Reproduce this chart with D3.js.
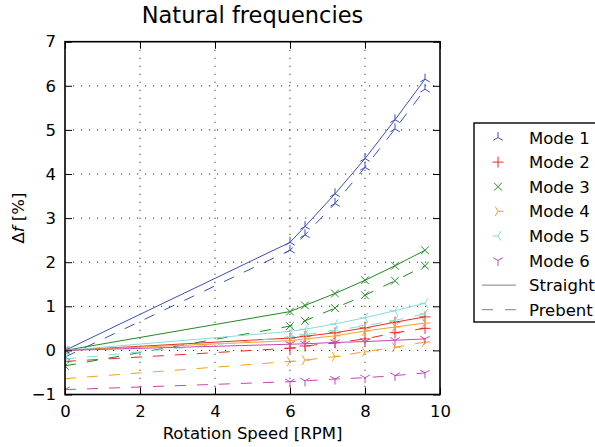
<!DOCTYPE html>
<html>
<head>
<meta charset="utf-8">
<script src="https://cdn.jsdelivr.net/npm/d3@7"></script>
<style>
  body { margin: 0; background: #fff; }
  svg { font-family: "DejaVu Sans", sans-serif; }
</style>
</head>
<body>
<div id="chart"></div>
<script>
'use strict';

// rotation speeds of the measurements
const speeds = [0, 6, 6.4, 7.2, 8, 8.8, 9.6];

const modeNames = ['Mode 1', 'Mode 2', 'Mode 3', 'Mode 4', 'Mode 5', 'Mode 6'];

// straight blade
const straight1 = [0, 2.45, 2.81, 3.55, 4.35, 5.23, 6.15];
const straight2 = [0, 0.28, 0.32, 0.40, 0.51, 0.64, 0.76];
const straight3 = [0, 0.88, 1.02, 1.29, 1.59, 1.92, 2.27];
const straight4 = [0, 0.22, 0.26, 0.33, 0.44, 0.53, 0.62];
const straight5 = [0, 0.43, 0.48, 0.60, 0.74, 0.90, 1.07];
const straight6 = [0, 0.14, 0.15, 0.18, 0.20, 0.23, 0.26];

// prebent blade
const prebent1 = [-0.15, 2.27, 2.62, 3.33, 4.15, 5.02, 5.92];
const prebent2 = [-0.25, 0.05, 0.10, 0.17, 0.26, 0.40, 0.50];
const prebent3 = [-0.35, 0.55, 0.67, 0.96, 1.25, 1.58, 1.92];
const prebent4 = [-0.64, -0.25, -0.22, -0.14, -0.03, 0.07, 0.19];
const prebent5 = [-0.20, 0.30, 0.36, 0.45, 0.56, 0.68, 0.83];
const prebent6 = [-0.89, -0.71, -0.69, -0.65, -0.62, -0.57, -0.51];

const xTicks = [0, 2, 4, 6, 8, 10];
const yTicks = [-1, 0, 1, 2, 3, 4, 5, 6, 7];

const straightSeries = [straight1, straight2, straight3, straight4, straight5, straight6];
const prebentSeries = [prebent1, prebent2, prebent3, prebent4, prebent5, prebent6];

const colors = ['#3a4fb8', '#ee2a24', '#1f8a1f', '#f5a023', '#86dcd6', '#c447b4'];
// marker arm directions in degrees (0 = up, clockwise); matplotlib tri / + / x
const markerArms = [
  [0, 120, 240],     // tri_up
  [0, 90, 180, 270], // plus
  [45, 135, 225, 315], // x
  [90, 210, 330],    // tri_right
  [270, 30, 150],    // tri_left
  [180, 300, 60]     // tri_down
];

function markerPath(arms, r) {
  return arms.map(a => {
    const rad = a * Math.PI / 180;
    return `M0,0L${(r * Math.sin(rad)).toFixed(2)},${(-r * Math.cos(rad)).toFixed(2)}`;
  }).join('');
}

const width = 595, height = 447;
const margin = {left: 65, right: 155, top: 41.7, bottom: 52.5};
const plotW = width - margin.left - margin.right;
const plotH = height - margin.top - margin.bottom;

const svg = d3.select('#chart').append('svg')
  .attr('width', width)
  .attr('height', height);

const x = d3.scaleLinear().domain([0, 10]).range([0, plotW]);
const y = d3.scaleLinear().domain([-1, 7]).range([plotH, 0]);

const g = svg.append('g')
  .attr('transform', `translate(${margin.left},${margin.top})`);

svg.append('defs').append('clipPath').attr('id', 'clip')
  .append('rect').attr('width', plotW).attr('height', plotH);

// grid
g.append('g').selectAll('line')
  .data(xTicks.slice(1, -1))
  .enter().append('line')
  .attr('x1', d => x(d)).attr('x2', d => x(d))
  .attr('y1', 0).attr('y2', plotH)
  .style('stroke', '#000').style('stroke-width', 0.8)
  .style('stroke-dasharray', '1.2,6.8');
g.append('g').selectAll('line')
  .data(yTicks.slice(1, -1))
  .enter().append('line')
  .attr('y1', d => y(d)).attr('y2', d => y(d))
  .attr('x1', 0).attr('x2', plotW)
  .style('stroke', '#000').style('stroke-width', 0.8)
  .style('stroke-dasharray', '1.2,6.8');

// data
const plot = g.append('g').attr('clip-path', 'url(#clip)');
const line = d3.line().x((d, i) => x(speeds[i])).y(d => y(d));

modeNames.forEach((name, m) => {
  [[straightSeries[m], null], [prebentSeries[m], '11,11']].forEach(([vals, dash]) => {
    plot.append('path')
      .attr('d', line(vals))
      .style('fill', 'none')
      .style('stroke', colors[m])
      .style('stroke-width', 1)
      .style('stroke-dasharray', dash);
    plot.selectAll(null)
      .data(vals)
      .enter().append('path')
      .attr('transform', (d, i) => `translate(${x(speeds[i])},${y(d)})`)
      .attr('d', markerPath(markerArms[m], 5.5))
      .style('fill', 'none')
      .style('stroke', colors[m])
      .style('stroke-width', 1);
  });
});

// axes with inward ticks on all sides
const tickSize = 7;
const xAxisB = d3.axisBottom(x).tickValues(xTicks).tickSize(-tickSize).tickPadding(11);
const xAxisT = d3.axisTop(x).tickValues(xTicks).tickSize(-tickSize).tickFormat('');
const yAxisL = d3.axisLeft(y).tickValues(yTicks).tickSize(-tickSize).tickPadding(9)
  .tickFormat(d => d < 0 ? '\u2212' + Math.abs(d) : d);
const yAxisR = d3.axisRight(y).tickValues(yTicks).tickSize(-tickSize).tickFormat('');

[
  [xAxisB, `translate(0,${plotH})`],
  [xAxisT, 'translate(0,0)'],
  [yAxisL, 'translate(0,0)'],
  [yAxisR, `translate(${plotW},0)`]
].forEach(([ax, tr]) => {
  const a = g.append('g').attr('transform', tr).call(ax);
  a.select('.domain').remove();
  a.selectAll('.tick line').style('stroke', '#000').style('stroke-width', 1);
  a.selectAll('text').style('font-size', '16.5px').style('font-family', '"DejaVu Sans", sans-serif')
    .style('fill', '#000');
});

g.append('rect')
  .attr('width', plotW).attr('height', plotH)
  .style('fill', 'none').style('stroke', '#000').style('stroke-width', 1.6);

// labels
svg.append('text')
  .attr('x', margin.left + plotW / 2).attr('y', 23)
  .attr('text-anchor', 'middle')
  .style('font-size', '22.5px')
  .text('Natural frequencies');

svg.append('text')
  .attr('x', margin.left + plotW / 2).attr('y', 439)
  .attr('text-anchor', 'middle')
  .style('font-size', '16.5px')
  .text('Rotation Speed [RPM]');

const yl = svg.append('text')
  .attr('transform', `translate(24,${margin.top + plotH / 2}) rotate(-90)`)
  .attr('text-anchor', 'middle')
  .style('font-size', '16.5px');
yl.append('tspan').text('\u0394');
yl.append('tspan').style('font-style', 'italic').text('f');
yl.append('tspan').text(' [%]');

// legend
const lg = svg.append('g').attr('transform', 'translate(474,123)');
lg.append('rect')
  .attr('width', 130).attr('height', 199)
  .style('fill', '#fff').style('stroke', '#000').style('stroke-width', 1.4);

const legendRows = modeNames.map((n, i) => ({label: n, m: i}))
  .concat([{label: 'Straight', dash: null}, {label: 'Prebent', dash: '11,12'}]);

legendRows.forEach((r, i) => {
  const cy = 14.5 + i * 24.6;
  if (r.m !== undefined) {
    lg.append('path')
      .attr('transform', `translate(24,${cy})`)
      .attr('d', markerPath(markerArms[r.m], 5.5))
      .style('fill', 'none').style('stroke', colors[r.m]).style('stroke-width', 1);
  } else {
    lg.append('line')
      .attr('x1', 8).attr('x2', 42).attr('y1', cy).attr('y2', cy)
      .style('stroke', '#808080').style('stroke-width', 1)
      .style('stroke-dasharray', r.dash);
  }
  lg.append('text')
    .attr('x', 55).attr('y', cy + 6)
    .style('font-size', '16.5px')
    .text(r.label);
});
</script>
</body>
</html>
